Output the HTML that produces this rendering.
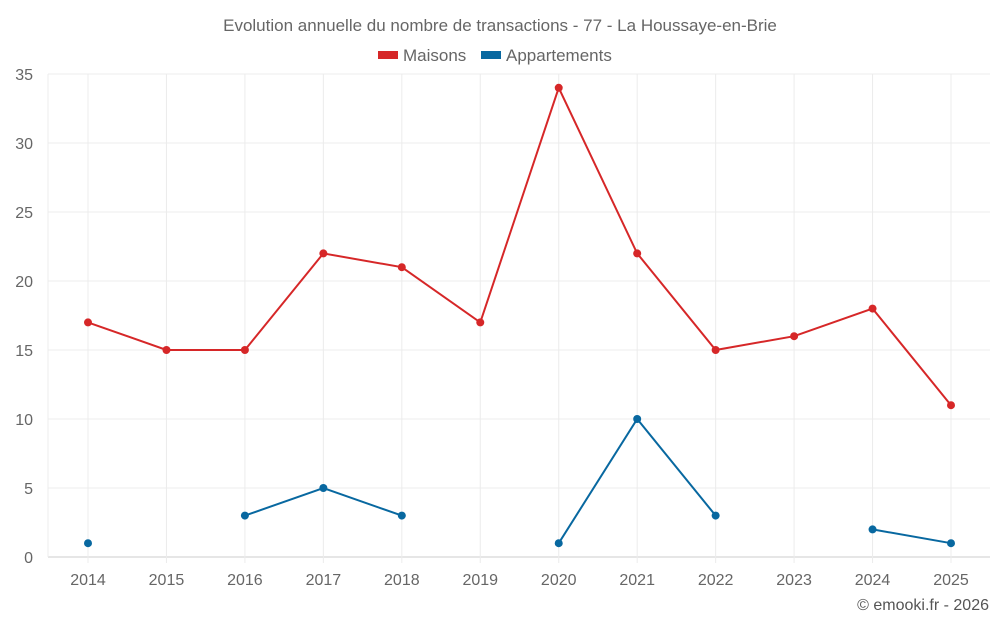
<!DOCTYPE html>
<html><head><meta charset="utf-8"><style>
body{margin:0;background:#fff;font-family:"Liberation Sans",sans-serif;}
svg text{font-family:"Liberation Sans",sans-serif;}
</style></head><body>
<svg id="chart" width="1000" height="625" viewBox="0 0 1000 625" xmlns="http://www.w3.org/2000/svg">
<text x="500" y="31" text-anchor="middle" font-size="17" fill="#666">Evolution annuelle du nombre de transactions - 77 - La Houssaye-en-Brie</text>
<g>
<g><rect x="378" y="51" width="20" height="8" fill="#d62728"/><text x="403" y="61" font-size="17" fill="#666">Maisons</text></g>
<g><rect x="481" y="51" width="20" height="8" fill="#0868a0"/><text x="506" y="61" font-size="17" fill="#666">Appartements</text></g>
</g>
<g id="grid"></g>
<g id="axes"></g>
<g id="series"></g>
<text x="989" y="610" text-anchor="end" font-size="16" fill="#555">© emooki.fr - 2026</text>
</svg>
<script>
const years=[2014,2015,2016,2017,2018,2019,2020,2021,2022,2023,2024,2025];
const maisons=[17,15,15,22,21,17,34,22,15,16,18,11];
const appartements=[1,null,3,5,3,null,1,10,3,null,2,1];
const yTicks=[0,5,10,15,20,25,30,35];
const NS="http://www.w3.org/2000/svg";
const x0=88,x1=951,yB=557,yT=74,yMax=35;
const xs=i=>x0+i*(x1-x0)/(years.length-1);
const ys=v=>yB-v*(yB-yT)/yMax;
function mk(tag,attrs,parent){const e=document.createElementNS(NS,tag);for(const k in attrs)e.setAttribute(k,attrs[k]);parent.appendChild(e);return e;}
const grid=document.getElementById('grid'),axes=document.getElementById('axes'),series=document.getElementById('series');
yTicks.forEach(t=>{
 const l=mk('line',{x1:48,x2:990,y1:ys(t),y2:ys(t),stroke:t===0?'#ccc':'#ececec'},grid);
 
 
 const tx=mk('text',{x:33,y:ys(t)+6,'text-anchor':'end','font-size':16,fill:'#666'},axes);tx.textContent=t;
 
 
});
mk('line',{x1:48,x2:48,y1:yT,y2:yB,stroke:'#ececec'},grid);
years.forEach((y,i)=>{
 const l=mk('line',{x1:xs(i),x2:xs(i),y1:yT,y2:yB+6,stroke:'#ececec'},grid);
 
 
 const tx=mk('text',{x:xs(i),y:585,'text-anchor':'middle','font-size':16,fill:'#666'},axes);tx.textContent=y;
 
 
});
function draw(vals,color,name){
 let seg=[];const segs=[];
 vals.forEach((v,i)=>{if(v==null){if(seg.length)segs.push(seg);seg=[];}else seg.push([xs(i),ys(v)]);});
 if(seg.length)segs.push(seg);
 segs.forEach(s=>{if(s.length>1){const p=mk('polyline',{points:s.map(q=>q.join(',')).join(' '),fill:'none',stroke:color,'stroke-width':2},series);
  
  }});
 vals.forEach((v,i)=>{if(v==null)return;const c=mk('circle',{cx:xs(i),cy:ys(v),r:4,fill:color},series);
  
  });
}
draw(maisons,'#d62728','maisons');
draw(appartements,'#0868a0','appartements');
</script>
</body></html>
